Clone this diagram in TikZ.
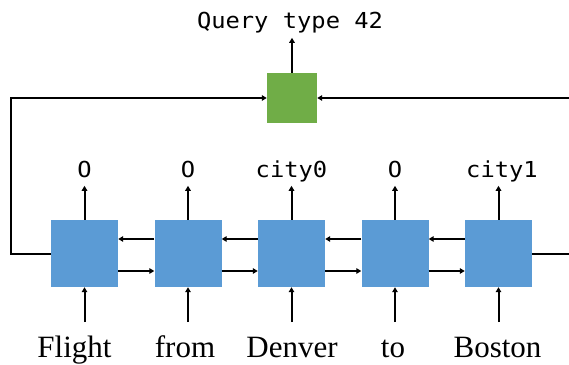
\documentclass[tikz,border=0pt]{standalone}
\usepackage{fontspec}
\setmainfont{Liberation Serif}
\newfontfamily\codefont[FakeStretch=1.08]{DejaVu Sans Mono}
\usetikzlibrary{arrows.meta}
\definecolor{cellblue}{HTML}{5B9BD5}
\definecolor{cellgreen}{HTML}{70AD47}
\begin{document}
\begin{tikzpicture}[x=1pt,y=-1pt,
  cell/.style={fill=cellblue,draw=none,minimum width=67pt,minimum height=67pt,inner sep=0pt},
  qcell/.style={fill=cellgreen,draw=none,minimum width=50pt,minimum height=50pt,inner sep=0pt},
  arr/.style={line width=2pt,-{Triangle[length=5pt,width=5.5pt]}},
  word/.style={font=\fontsize{31}{31}\selectfont,anchor=base,inner sep=0pt},
  tag/.style={font=\codefont\fontsize{22}{22}\selectfont,anchor=base,inner sep=0pt}]
\useasboundingbox (0,0) rectangle (569,364);
% cells
\node[cell] (c1) at (84.5,253.5) {};
\node[cell] (c2) at (188,253.5) {};
\node[cell] (c3) at (291.5,253.5) {};
\node[cell] (c4) at (395,253.5) {};
\node[cell] (c5) at (498.5,253.5) {};
\node[qcell] (q) at (292,98) {};
% words
\node[word] (w1) at (74.5,357) {Flight};
\node[word] (w2) at (185,357) {from};
\node[word] (w3) at (292,357) {Denver};
\node[word] (w4) at (393,357) {to};
\node[word] (w5) at (497.5,357) {Boston};
% tags
\node[tag] (t1) at (84.5,177) {O};
\node[tag] (t2) at (188,177) {O};
\node[tag] (t3) at (291.5,177) {city0};
\node[tag] (t4) at (395,177) {O};
\node[tag] (t5) at (502,177) {city1};
\node[tag] (qt) at (290,28) {Query type 42};
% coordinates
\foreach \i in {1,...,5}{
  \coordinate (b\i) at ([yshift=-35pt]c\i.south);
  \coordinate (u\i) at ([yshift=34pt]c\i.north);
}
\coordinate (qu) at ([yshift=35pt]q.north);
\coordinate (lc) at (11,253.5);
\coordinate (rc) at (580,253.5);
% input and output arrows
\foreach \i in {1,...,5}{
  \draw[arr] (b\i) -- (c\i.south);
  \draw[arr] (c\i.north) -- (u\i);
}
\draw[arr] (q.north) -- (qu);
% recurrent arrows
\foreach \i/\j in {1/2,2/3,3/4,4/5}{
  \draw[arr] ([yshift=-17.5pt]c\i.east) -- ([yshift=-17.5pt]c\j.west);
  \draw[arr] ([yshift=14.5pt]c\j.west) -- ([yshift=14.5pt]c\i.east);
}
% loops to the query cell
\draw[arr] (c1.west) -- (lc) |- (q.west);
\draw[arr] (c5.east) -- (rc) |- (q.east);
\end{tikzpicture}
\end{document}
